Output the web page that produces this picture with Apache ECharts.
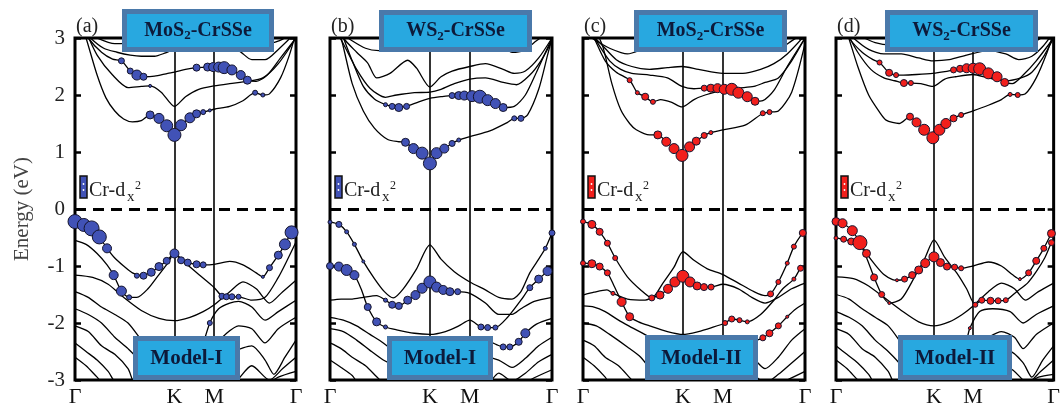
<!DOCTYPE html>
<html><head><meta charset="utf-8">
<script src="https://cdn.jsdelivr.net/npm/echarts@6/dist/echarts.min.js"></script>
<style>html,body{margin:0;padding:0;background:#fff}#c{width:1063px;height:410px}</style>
</head><body><div id="c"></div><script>
// ---------- data ----------
const kPoints = [0, 0.45, 0.63, 1];
const kLabels = ['Γ', 'K', 'M', 'Γ'];
const panelLetters = ['(a)', '(b)', '(c)', '(d)'];
const systemHost = ['MoS', 'WS', 'MoS', 'WS'];
const models = ['Model-I', 'Model-I', 'Model-II', 'Model-II'];
const dotColors = ['#4152b6', '#4152b6', '#f21f1c', '#f21f1c'];

const bandsA = [
 [[0,3.6],[0.05,3.0],[0.1,2.35],[0.14,1.95],[0.18,1.72],[0.22,1.58],[0.26,1.53],[0.3,1.55],[0.34,1.65],[0.38,1.59],[0.415,1.46],[0.45,1.3],[0.48,1.47],[0.52,1.6],[0.55,1.67],[0.58,1.7],[0.63,1.75],[0.7,1.8],[0.76,1.9],[0.815,2.04],[0.85,2.0],[0.88,2.02],[0.93,2.3],[0.97,2.7],[1,3.1]],
 [[0,3.5],[0.05,3.1],[0.1,2.7],[0.17,2.35],[0.24,2.13],[0.3,2.15],[0.34,2.16],[0.39,2.05],[0.45,1.8],[0.5,1.97],[0.56,2.1],[0.63,2.16],[0.7,2.2],[0.78,2.24],[0.85,2.3],[0.92,2.55],[1,3.0]],
 [[0,3.4],[0.06,3.0],[0.12,2.75],[0.17,2.63],[0.21,2.6],[0.25,2.42],[0.28,2.35],[0.31,2.32],[0.36,2.33],[0.42,2.38],[0.45,2.4],[0.5,2.45],[0.55,2.48],[0.6,2.49],[0.65,2.49],[0.675,2.48],[0.71,2.44],[0.75,2.35],[0.78,2.26],[0.82,2.24],[0.87,2.35],[0.93,2.65],[1,3.0]],
 [[0,3.3],[0.07,3.0],[0.13,2.82],[0.19,2.75],[0.25,2.7],[0.3,2.68],[0.36,2.68],[0.41,2.74],[0.45,2.8],[0.52,2.85],[0.6,2.9],[0.68,2.82],[0.74,2.78],[0.8,2.62],[0.86,2.62],[0.92,2.8],[1,3.1]],
 [[0,3.2],[0.1,3.0],[0.18,2.9],[0.26,2.92],[0.34,3.05],[0.45,3.2],[0.6,3.2],[0.72,3.05],[0.8,2.92],[0.87,2.9],[0.94,2.98],[1,3.2]],
 [[0,-0.22],[0.04,-0.28],[0.075,-0.34],[0.11,-0.49],[0.145,-0.69],[0.18,-0.86],[0.22,-1.0],[0.26,-1.12],[0.3,-1.17],[0.345,-1.11],[0.38,-1.01],[0.415,-0.91],[0.45,-0.78],[0.48,-0.9],[0.51,-0.94],[0.55,-0.97],[0.58,-0.98],[0.63,-0.97],[0.7,-0.92],[0.76,-0.98],[0.82,-1.12],[0.85,-1.19],[0.88,-1.03],[0.92,-0.81],[0.95,-0.62],[0.98,-0.41],[1,-0.36]],
 [[0,-0.55],[0.05,-0.62],[0.1,-0.78],[0.145,-0.98],[0.175,-1.16],[0.21,-1.44],[0.245,-1.55],[0.28,-1.55],[0.33,-1.4],[0.38,-1.15],[0.42,-0.95],[0.45,-0.78],[0.5,-0.95],[0.56,-1.15],[0.63,-1.38],[0.665,-1.53],[0.685,-1.54],[0.71,-1.54],[0.74,-1.54],[0.8,-1.6],[0.86,-1.55],[0.92,-1.2],[0.96,-0.9],[1,-0.58]],
 [[0,-1.16],[0.08,-1.2],[0.15,-1.32],[0.22,-1.55],[0.3,-1.78],[0.38,-1.92],[0.45,-1.96],[0.52,-1.9],[0.58,-1.8],[0.63,-1.68],[0.7,-1.45],[0.76,-1.28],[0.82,-1.4],[0.88,-1.65],[0.94,-1.45],[1,-1.25]],
 [[0,-1.45],[0.06,-1.55],[0.12,-1.72],[0.18,-1.85],[0.24,-2.0],[0.3,-2.3],[0.36,-2.6],[0.42,-2.95],[0.45,-3.1],[0.5,-3.0],[0.56,-2.6],[0.61,-2.0],[0.65,-1.75],[0.7,-1.65],[0.74,-1.62],[0.8,-1.72],[0.86,-1.95],[0.92,-1.8],[1,-1.6]],
 [[0,-1.75],[0.06,-1.85],[0.12,-2.0],[0.18,-2.25],[0.24,-2.45],[0.3,-2.7],[0.35,-3.1],[0.55,-3.1],[0.6,-2.6],[0.63,-2.4],[0.68,-2.2],[0.74,-2.05],[0.8,-2.1],[0.86,-2.35],[0.92,-2.1],[1,-1.9]],
 [[0,-2.05],[0.06,-2.15],[0.12,-2.4],[0.18,-2.55],[0.24,-2.8],[0.28,-3.1],[0.62,-3.1],[0.66,-2.7],[0.72,-2.5],[0.8,-2.4],[0.86,-2.65],[0.9,-2.9],[0.95,-2.6],[1,-2.3]],
 [[0,-2.35],[0.05,-2.5],[0.1,-2.65],[0.15,-2.85],[0.2,-3.1],[0.7,-3.1],[0.8,-2.75],[0.88,-3.0],[0.94,-2.8],[1,-2.6]],
 [[0,-2.6],[0.05,-2.75],[0.1,-2.95],[0.14,-3.1],[0.85,-3.1],[0.92,-2.95],[1,-2.85]]
];
const dotsA = [
 [0.21,2.6,6],[0.25,2.42,6],[0.28,2.35,10],[0.31,2.32,7],[0.34,2.16,3],
 [0.34,1.65,8],[0.38,1.59,10],[0.415,1.46,12],[0.45,1.3,13],[0.48,1.47,11],[0.52,1.6,10],[0.55,1.67,8],[0.58,1.7,5],[0.61,1.73,3],
 [0.55,2.48,7],[0.6,2.49,8],[0.625,2.49,9],[0.65,2.49,10],[0.675,2.48,12],[0.71,2.44,10],[0.75,2.35,9],[0.78,2.26,8],
 [0.815,2.04,5],[0.85,2.0,4],
 [0,-0.22,14],[0.04,-0.28,13],[0.075,-0.34,15],[0.11,-0.49,14],[0.145,-0.69,9],[0.175,-1.16,9],[0.21,-1.44,10],[0.245,-1.55,5],
 [0.28,-1.17,5],[0.31,-1.17,7],[0.345,-1.11,8],[0.38,-1.01,8],[0.415,-0.91,7],[0.45,-0.78,9],[0.48,-0.9,7],[0.51,-0.94,7],[0.55,-0.97,7],[0.58,-0.98,6],
 [0.665,-1.53,6],[0.685,-1.54,6],[0.71,-1.54,6],[0.74,-1.54,5],[0.61,-2.0,5],
 [0.85,-1.19,3],[0.88,-1.03,6],[0.92,-0.81,8],[0.95,-0.62,11],[0.98,-0.41,13]
];

const bandsB = [
 [[0,3.6],[0.05,3.0],[0.1,2.2],[0.15,1.72],[0.2,1.42],[0.26,1.22],[0.31,1.18],[0.34,1.17],[0.376,1.06],[0.415,0.98],[0.45,0.8],[0.48,0.98],[0.515,1.06],[0.55,1.15],[0.58,1.21],[0.63,1.27],[0.72,1.37],[0.8,1.52],[0.83,1.59],[0.86,1.59],[0.89,1.65],[0.94,2.1],[0.98,2.7],[1,3.0]],
 [[0,3.5],[0.05,3.1],[0.1,2.6],[0.15,2.15],[0.2,1.93],[0.25,1.83],[0.28,1.8],[0.31,1.78],[0.345,1.8],[0.4,1.88],[0.45,1.94],[0.5,1.97],[0.55,1.99],[0.58,1.99],[0.605,1.99],[0.64,1.98],[0.675,1.97],[0.71,1.91],[0.745,1.85],[0.78,1.78],[0.83,1.8],[0.88,2.0],[0.93,2.4],[1,3.0]],
 [[0,3.4],[0.06,3.0],[0.12,2.75],[0.17,2.56],[0.21,2.3],[0.27,2.38],[0.35,2.61],[0.39,2.47],[0.45,2.14],[0.5,2.32],[0.55,2.42],[0.63,2.5],[0.7,2.55],[0.78,2.45],[0.83,2.38],[0.88,2.42],[0.94,2.65],[1,3.0]],
 [[0,3.3],[0.06,2.9],[0.12,2.45],[0.18,2.12],[0.25,1.96],[0.3,2.0],[0.38,2.04],[0.45,2.05],[0.5,2.1],[0.56,2.2],[0.63,2.28],[0.7,2.3],[0.78,2.22],[0.84,2.18],[0.9,2.35],[0.95,2.6],[1,2.95]],
 [[0,3.2],[0.08,3.0],[0.16,2.82],[0.22,2.78],[0.3,2.9],[0.38,3.0],[0.45,2.95],[0.55,3.05],[0.65,3.1],[0.75,2.95],[0.82,2.75],[0.87,2.78],[0.93,2.95],[1,3.15]],
 [[0,-0.23],[0.04,-0.27],[0.075,-0.4],[0.11,-0.62],[0.15,-0.92],[0.2,-1.22],[0.245,-1.45],[0.285,-1.56],[0.33,-1.4],[0.39,-1.05],[0.45,-0.63],[0.5,-0.88],[0.56,-1.1],[0.63,-1.28],[0.7,-1.42],[0.76,-1.55],[0.82,-1.58],[0.86,-1.45],[0.9,-1.12],[0.94,-0.88],[0.97,-0.69],[1,-0.42]],
 [[0,-1.0],[0.04,-1.01],[0.075,-1.07],[0.11,-1.16],[0.14,-1.4],[0.17,-1.72],[0.21,-1.98],[0.25,-2.07],[0.3,-2.12],[0.38,-2.18],[0.45,-2.2],[0.52,-2.15],[0.58,-2.05],[0.63,-1.95],[0.68,-2.07],[0.71,-2.08],[0.745,-2.08],[0.8,-1.9],[0.86,-1.6],[0.9,-1.38],[0.94,-1.23],[0.98,-1.09],[1,-1.02]],
 [[0,-1.6],[0.05,-1.58],[0.1,-1.58],[0.15,-1.55],[0.21,-1.52],[0.25,-1.6],[0.28,-1.68],[0.31,-1.7],[0.35,-1.6],[0.385,-1.51],[0.415,-1.39],[0.45,-1.28],[0.48,-1.37],[0.51,-1.42],[0.54,-1.45],[0.575,-1.45],[0.63,-1.48],[0.7,-1.65],[0.76,-1.85],[0.82,-1.85],[0.86,-1.75],[0.92,-1.62],[1,-1.55]],
 [[0,-1.9],[0.06,-1.95],[0.12,-2.05],[0.18,-2.2],[0.24,-2.35],[0.3,-2.55],[0.36,-2.9],[0.4,-3.1],[0.58,-3.1],[0.63,-2.6],[0.66,-2.35],[0.7,-2.3],[0.75,-2.38],[0.78,-2.42],[0.81,-2.42],[0.85,-2.33],[0.88,-2.18],[0.93,-2.02],[1,-1.92]],
 [[0,-2.1],[0.06,-2.15],[0.12,-2.3],[0.18,-2.48],[0.24,-2.65],[0.3,-2.78],[0.36,-3.1],[0.6,-3.1],[0.64,-2.8],[0.7,-2.6],[0.76,-2.65],[0.82,-2.78],[0.88,-2.62],[0.94,-2.4],[1,-2.25]],
 [[0,-2.35],[0.05,-2.45],[0.1,-2.6],[0.16,-2.75],[0.22,-2.98],[0.26,-3.1],[0.7,-3.1],[0.76,-2.88],[0.82,-3.02],[0.88,-2.88],[0.94,-2.68],[1,-2.55]],
 [[0,-2.65],[0.05,-2.78],[0.1,-2.92],[0.14,-3.1],[0.85,-3.1],[0.92,-2.96],[1,-2.82]]
];
const dotsB = [
 [0.25,1.83,4],[0.28,1.8,6],[0.31,1.78,8],[0.345,1.8,6],
 [0.34,1.17,8],[0.376,1.06,10],[0.415,0.98,12],[0.45,0.8,13],[0.48,0.98,11],[0.515,1.06,9],[0.55,1.15,6],[0.58,1.21,4],
 [0.55,1.99,6],[0.58,1.99,8],[0.605,1.99,9],[0.64,1.98,11],[0.675,1.97,13],[0.71,1.91,11],[0.745,1.85,10],[0.78,1.78,8],
 [0.83,1.59,5],[0.86,1.59,6],
 [0,-0.23,4],[0.04,-0.27,6],[0.075,-0.4,4],[0.11,-0.62,4],[0.15,-0.92,3],
 [0,-1.0,7],[0.04,-1.01,9],[0.075,-1.07,11],[0.11,-1.16,9],[0.17,-1.72,7],[0.21,-1.98,8],[0.25,-2.07,4],
 [0.25,-1.6,4],[0.28,-1.68,7],[0.31,-1.7,7],[0.35,-1.6,8],[0.385,-1.51,9],[0.415,-1.39,10],[0.45,-1.28,12],[0.48,-1.37,10],[0.51,-1.42,9],[0.54,-1.45,8],[0.575,-1.45,6],
 [0.68,-2.07,6],[0.71,-2.08,6],[0.745,-2.08,5],
 [0.78,-2.42,6],[0.81,-2.42,6],[0.85,-2.33,7],[0.88,-2.18,9],
 [0.9,-1.38,6],[0.94,-1.23,8],[0.98,-1.09,9],[0.97,-0.69,4],[1,-0.42,6]
];

const bandsC = [
 [[0,3.6],[0.05,3.2],[0.09,2.84],[0.13,2.2],[0.17,1.74],[0.21,1.5],[0.24,1.39],[0.3,1.3],[0.337,1.3],[0.375,1.18],[0.41,1.06],[0.446,0.94],[0.48,1.09],[0.51,1.19],[0.546,1.29],[0.576,1.34],[0.63,1.39],[0.73,1.47],[0.81,1.68],[0.84,1.7],[0.88,1.72],[0.94,2.05],[1,2.9]],
 [[0,3.4],[0.05,3.0],[0.1,2.6],[0.15,2.4],[0.21,2.26],[0.245,2.04],[0.28,1.97],[0.315,1.88],[0.35,1.92],[0.4,1.87],[0.446,1.79],[0.5,1.92],[0.55,2.0],[0.63,2.08],[0.7,2.12],[0.77,2.15],[0.82,2.22],[0.88,2.3],[0.94,2.6],[1,3.0]],
 [[0,3.3],[0.06,2.95],[0.12,2.6],[0.17,2.45],[0.22,2.38],[0.3,2.35],[0.38,2.3],[0.446,2.15],[0.5,2.11],[0.546,2.12],[0.576,2.12],[0.606,2.12],[0.636,2.1],[0.67,2.1],[0.7,2.04],[0.74,1.97],[0.775,1.89],[0.81,1.9],[0.86,2.08],[0.92,2.5],[1,3.0]],
 [[0,3.2],[0.08,2.9],[0.15,2.62],[0.22,2.5],[0.3,2.45],[0.38,2.48],[0.446,2.5],[0.52,2.45],[0.63,2.38],[0.72,2.38],[0.8,2.45],[0.86,2.55],[0.92,2.72],[1,3.05]],
 [[0,3.1],[0.06,2.95],[0.12,2.82],[0.2,2.72],[0.28,2.82],[0.35,2.9],[0.446,2.88],[0.55,2.95],[0.63,3.0],[0.75,2.95],[0.82,2.78],[0.88,2.8],[0.94,2.95],[1,3.1]],
 [[0,-0.22],[0.04,-0.27],[0.075,-0.4],[0.11,-0.6],[0.145,-0.86],[0.2,-1.19],[0.26,-1.42],[0.31,-1.56],[0.36,-1.3],[0.41,-1.02],[0.45,-0.75],[0.5,-0.9],[0.56,-1.05],[0.63,-1.15],[0.7,-1.3],[0.77,-1.45],[0.82,-1.52],[0.845,-1.49],[0.88,-1.28],[0.92,-0.95],[0.95,-0.66],[0.99,-0.42],[1,-0.4]],
 [[0,-0.95],[0.04,-0.96],[0.075,-1.01],[0.11,-1.12],[0.14,-1.35],[0.174,-1.63],[0.21,-1.89],[0.25,-1.98],[0.3,-2.05],[0.38,-2.15],[0.45,-2.2],[0.52,-2.15],[0.58,-2.08],[0.64,-2.0],[0.67,-1.93],[0.705,-1.95],[0.74,-1.98],[0.8,-1.85],[0.86,-1.6],[0.9,-1.4],[0.95,-1.23],[0.98,-1.04],[1,-1.0]],
 [[0,-1.51],[0.05,-1.46],[0.108,-1.42],[0.135,-1.48],[0.2,-1.58],[0.28,-1.6],[0.31,-1.56],[0.347,-1.51],[0.383,-1.4],[0.414,-1.28],[0.45,-1.18],[0.482,-1.28],[0.514,-1.35],[0.545,-1.37],[0.577,-1.37],[0.63,-1.32],[0.7,-1.4],[0.76,-1.55],[0.82,-1.65],[0.88,-1.55],[0.94,-1.4],[1,-1.3]],
 [[0,-1.7],[0.05,-1.72],[0.1,-1.8],[0.16,-1.95],[0.22,-2.08],[0.3,-2.25],[0.36,-2.45],[0.42,-2.7],[0.45,-2.8],[0.52,-2.7],[0.58,-2.45],[0.63,-2.3],[0.7,-2.3],[0.76,-2.32],[0.81,-2.26],[0.84,-2.18],[0.88,-2.05],[0.92,-1.89],[0.96,-1.75],[1,-1.65]],
 [[0,-2.0],[0.06,-2.05],[0.12,-2.2],[0.2,-2.42],[0.26,-2.6],[0.32,-2.9],[0.36,-3.1],[0.6,-3.1],[0.64,-2.7],[0.7,-2.55],[0.76,-2.6],[0.82,-2.8],[0.88,-2.6],[0.94,-2.3],[1,-2.1]],
 [[0,-2.3],[0.05,-2.4],[0.1,-2.6],[0.16,-2.75],[0.22,-3.0],[0.25,-3.1],[0.7,-3.1],[0.76,-2.9],[0.82,-3.05],[0.88,-2.9],[0.94,-2.7],[1,-2.5]],
 [[0,-2.6],[0.05,-2.75],[0.1,-2.95],[0.13,-3.1],[0.86,-3.1],[0.92,-3.0],[1,-2.85]]
];
const dotsC = [
 [0.21,2.26,5],[0.245,2.04,4],[0.28,1.97,7],[0.315,1.88,5],
 [0.337,1.3,8],[0.375,1.18,9],[0.41,1.06,10],[0.446,0.94,12],[0.48,1.09,10],[0.51,1.19,8],[0.546,1.29,6],[0.576,1.34,4],
 [0.546,2.12,6],[0.576,2.12,8],[0.606,2.12,9],[0.636,2.1,10],[0.67,2.1,12],[0.7,2.04,11],[0.74,1.97,10],[0.775,1.89,8],
 [0.81,1.68,5],[0.84,1.7,5],
 [0,-0.22,5],[0.04,-0.27,8],[0.075,-0.4,7],[0.11,-0.6,6],[0.145,-0.86,5],
 [0,-0.95,5],[0.04,-0.96,8],[0.075,-1.01,7],[0.11,-1.12,6],[0.174,-1.63,9],[0.21,-1.89,8],
 [0.135,-1.48,4],[0.31,-1.56,6],[0.347,-1.51,8],[0.383,-1.4,9],[0.414,-1.28,10],[0.45,-1.18,12],[0.482,-1.28,10],[0.514,-1.35,8],[0.545,-1.37,7],[0.577,-1.37,6],
 [0.64,-2.0,5],[0.67,-1.93,6],[0.705,-1.95,5],[0.74,-1.98,4],
 [0.81,-2.26,6],[0.84,-2.18,7],[0.88,-2.05,6],[0.92,-1.89,3],
 [0.845,-1.49,6],[0.88,-1.28,5],[0.92,-0.95,4],[0.95,-0.66,5],[0.99,-0.42,7],
 [0.95,-1.23,4],[0.98,-1.04,6]
];

const bandsD = [
 [[0,3.6],[0.05,3.1],[0.1,2.5],[0.15,2.0],[0.2,1.7],[0.23,1.56],[0.29,1.5],[0.34,1.62],[0.37,1.52],[0.405,1.39],[0.445,1.25],[0.475,1.39],[0.505,1.5],[0.54,1.59],[0.575,1.65],[0.63,1.72],[0.7,1.82],[0.76,1.92],[0.8,2.01],[0.835,2.0],[0.87,2.02],[0.92,2.3],[0.97,2.75],[1,3.1]],
 [[0,3.5],[0.05,3.1],[0.1,2.75],[0.16,2.45],[0.22,2.3],[0.27,2.25],[0.312,2.21],[0.344,2.21],[0.39,2.2],[0.445,2.15],[0.5,2.28],[0.55,2.32],[0.63,2.36],[0.7,2.3],[0.78,2.25],[0.85,2.3],[0.9,2.4],[0.95,2.65],[1,3.0]],
 [[0,3.4],[0.06,3.0],[0.12,2.75],[0.17,2.62],[0.2,2.57],[0.244,2.39],[0.276,2.35],[0.31,2.35],[0.37,2.36],[0.445,2.38],[0.5,2.41],[0.54,2.44],[0.57,2.46],[0.6,2.47],[0.63,2.47],[0.66,2.46],[0.7,2.38],[0.74,2.32],[0.775,2.22],[0.81,2.2],[0.86,2.35],[0.92,2.6],[1,3.0]],
 [[0,3.3],[0.08,3.0],[0.15,2.8],[0.22,2.72],[0.3,2.72],[0.38,2.65],[0.445,2.6],[0.52,2.62],[0.6,2.7],[0.7,2.78],[0.78,2.72],[0.84,2.62],[0.9,2.68],[0.95,2.85],[1,3.1]],
 [[0,3.2],[0.1,3.05],[0.18,2.92],[0.25,2.88],[0.32,2.95],[0.4,2.92],[0.45,2.95],[0.55,3.1],[0.7,3.1],[0.78,2.95],[0.85,2.88],[0.92,2.95],[1,3.15]],
 [[0,-0.22],[0.03,-0.25],[0.075,-0.38],[0.11,-0.59],[0.14,-0.78],[0.18,-0.98],[0.22,-1.15],[0.26,-1.24],[0.28,-1.25],[0.315,-1.23],[0.35,-1.16],[0.38,-1.07],[0.41,-0.95],[0.45,-0.84],[0.48,-0.94],[0.51,-1.01],[0.545,-1.02],[0.575,-1.04],[0.63,-1.0],[0.7,-0.93],[0.76,-1.0],[0.81,-1.15],[0.845,-1.23],[0.885,-1.12],[0.92,-0.91],[0.955,-0.69],[0.99,-0.43],[1,-0.4]],
 [[0,-0.51],[0.035,-0.53],[0.07,-0.57],[0.11,-0.62],[0.14,-0.85],[0.175,-1.2],[0.21,-1.5],[0.245,-1.65],[0.3,-1.58],[0.36,-1.2],[0.41,-0.85],[0.45,-0.54],[0.5,-0.85],[0.56,-1.15],[0.6,-1.4],[0.64,-1.68],[0.67,-1.6],[0.71,-1.61],[0.745,-1.61],[0.78,-1.6],[0.83,-1.45],[0.88,-1.3],[0.92,-1.1],[0.96,-0.85],[0.99,-0.59],[1,-0.55]],
 [[0,-1.19],[0.08,-1.22],[0.15,-1.35],[0.22,-1.55],[0.3,-1.78],[0.38,-1.98],[0.45,-2.05],[0.52,-1.98],[0.58,-1.85],[0.63,-1.7],[0.7,-1.45],[0.76,-1.3],[0.82,-1.4],[0.87,-1.6],[0.93,-1.45],[1,-1.3]],
 [[0,-1.5],[0.06,-1.58],[0.12,-1.75],[0.18,-1.9],[0.24,-2.05],[0.3,-2.35],[0.36,-2.65],[0.42,-3.0],[0.45,-3.1],[0.5,-3.05],[0.56,-2.6],[0.6,-2.3],[0.615,-2.09],[0.66,-1.8],[0.72,-1.75],[0.8,-1.8],[0.86,-2.0],[0.92,-1.85],[1,-1.7]],
 [[0,-1.8],[0.06,-1.9],[0.12,-2.05],[0.18,-2.3],[0.24,-2.5],[0.3,-2.75],[0.35,-3.1],[0.56,-3.1],[0.6,-2.65],[0.64,-2.4],[0.7,-2.25],[0.76,-2.15],[0.82,-2.25],[0.86,-2.45],[0.92,-2.2],[1,-2.0]],
 [[0,-2.1],[0.06,-2.2],[0.12,-2.45],[0.18,-2.6],[0.24,-2.85],[0.28,-3.1],[0.62,-3.1],[0.68,-2.75],[0.74,-2.55],[0.8,-2.5],[0.86,-2.7],[0.9,-2.95],[0.95,-2.65],[1,-2.4]],
 [[0,-2.4],[0.05,-2.55],[0.1,-2.7],[0.15,-2.9],[0.19,-3.1],[0.72,-3.1],[0.8,-2.8],[0.88,-3.05],[0.94,-2.85],[1,-2.65]],
 [[0,-2.65],[0.05,-2.8],[0.1,-3.0],[0.13,-3.1],[0.86,-3.1],[0.93,-2.95],[1,-2.9]]
];
const dotsD = [
 [0.2,2.57,5],[0.244,2.39,7],[0.276,2.35,5],[0.312,2.21,7],[0.344,2.21,5],
 [0.34,1.62,7],[0.37,1.52,9],[0.405,1.39,11],[0.445,1.25,12],[0.475,1.39,11],[0.505,1.5,10],[0.54,1.59,7],[0.575,1.65,5],
 [0.54,2.44,6],[0.57,2.46,7],[0.6,2.47,9],[0.63,2.47,10],[0.66,2.46,12],[0.7,2.38,11],[0.74,2.32,10],[0.775,2.22,8],
 [0.8,2.01,4],[0.835,2.0,5],
 [0,-0.22,8],[0.03,-0.25,9],[0.075,-0.38,10],[0,-0.51,4],[0.035,-0.53,6],[0.07,-0.57,7],[0.11,-0.59,14],[0.14,-0.78,8],[0.175,-1.2,7],[0.21,-1.5,6],[0.245,-1.65,3],
 [0.28,-1.25,3],[0.315,-1.23,6],[0.35,-1.16,7],[0.38,-1.07,8],[0.41,-0.95,9],[0.45,-0.84,10],[0.48,-0.94,8],[0.51,-1.01,7],[0.545,-1.02,6],[0.575,-1.04,5],
 [0.64,-1.68,5],[0.67,-1.6,6],[0.71,-1.61,7],[0.745,-1.61,6],[0.78,-1.6,5],[0.615,-2.09,3],
 [0.845,-1.23,3],[0.885,-1.12,6],[0.92,-0.91,7],[0.955,-0.69,6],[0.99,-0.43,8],[0.99,-0.59,6]
];

const allBands = [bandsA, bandsB, bandsC, bandsD];
const allDots = [dotsA, dotsB, dotsC, dotsD];

// ---------- layout ----------
const gridBoxes = [
  {left: 75, width: 221}, {left: 330, width: 222}, {left: 583, width: 222}, {left: 836, width: 221}
];
const GTOP = 38, GH = 342;
const titleBoxes = [[122,9,152,43],[379,10,153,42],[634,10,153,42],[885,10,153,42]];
const modelBoxes = [[133,336,107,44],[387,336,106,44],[645,335,113,45],[898,335,114,45]];
const SERIF = '"Liberation Serif", "DejaVu Serif", serif';

const chart = echarts.init(document.getElementById('c'), null, {renderer: 'canvas'});
const grid = [], xAxis = [], yAxis = [], series = [], graphic = [];

gridBoxes.forEach((g, p) => {
  grid.push({left: g.left, top: GTOP, width: g.width, height: GH, show: true,
    borderColor: '#000', borderWidth: 3, backgroundColor: 'transparent', containLabel: false});
  xAxis.push({gridIndex: p, type: 'value', min: 0, max: 1,
    axisLine: {show: false}, axisTick: {show: false}, splitLine: {show: false},
    axisLabel: {show: true, customValues: kPoints, margin: 6, fontSize: 22, fontFamily: SERIF, color: '#111',
      formatter: v => kLabels[kPoints.indexOf(v)] || ''}});
  ['left', 'right'].forEach(pos => {
    yAxis.push({gridIndex: p, type: 'value', position: pos, min: -3, max: 3, interval: 1,
      axisLine: {show: false}, splitLine: {show: false},
      axisTick: {show: true, inside: true, length: 6, lineStyle: {color: '#000', width: 2.5}},
      axisLabel: {show: p === 0 && pos === 'left', margin: 10, fontSize: 21, fontFamily: SERIF, color: '#222'}});
  });
  const yIdx = p * 2;
  allBands[p].forEach((b, i) => {
    const s = {type: 'line', xAxisIndex: p, yAxisIndex: yIdx, data: b, showSymbol: false, symbol: 'none',
      smooth: 0.25, lineStyle: {color: '#000', width: 1.3}, silent: true, z: 2, clip: true};
    if (i === 0) {
      s.markLine = {silent: true, symbol: ['none', 'none'], label: {show: false}, animation: false,
        data: [
          {xAxis: kPoints[1], lineStyle: {color: '#000', width: 1.6, type: 'solid'}},
          {xAxis: kPoints[2], lineStyle: {color: '#000', width: 1.6, type: 'solid'}},
          {yAxis: 0, lineStyle: {color: '#000', width: 2.8, type: [11, 7]}}
        ]};
    }
    series.push(s);
  });
  series.push({type: 'scatter', xAxisIndex: p, yAxisIndex: yIdx, data: allDots[p],
    symbolSize: d => d[2], z: 5, silent: true,
    itemStyle: {color: dotColors[p], borderColor: '#15152e', borderWidth: 1, opacity: 1}});

  // panel letter
  graphic.push({type: 'text', x: g.left + 1, y: 27, z: 50,
    style: {text: panelLetters[p], font: '20px ' + SERIF, fill: '#222', verticalAlign: 'middle', align: 'left'}});
  // title box
  const tb = titleBoxes[p];
  graphic.push({type: 'group', z: 60, children: [
    {type: 'rect', shape: {x: tb[0], y: tb[1], width: tb[2], height: tb[3]}, style: {fill: '#4a79aa'}, z: 60},
    {type: 'rect', shape: {x: tb[0] + 5, y: tb[1] + 5, width: tb[2] - 10, height: tb[3] - 10}, style: {fill: '#28a8e0'}, z: 61},
    {type: 'text', x: tb[0] + tb[2] / 2, y: tb[1] + tb[3] / 2, z: 62,
      style: {text: '{t|' + systemHost[p] + '}{s|2}{t|-CrSSe}', align: 'center', verticalAlign: 'middle',
        rich: {t: {fontSize: 20, fontWeight: 'bold', fontFamily: SERIF, fill: '#0d1a3a', lineHeight: 24, verticalAlign: 'middle'},
               s: {fontSize: 13, fontWeight: 'bold', fontFamily: SERIF, fill: '#0d1a3a', lineHeight: 12, verticalAlign: 'bottom'}}}}
  ]});
  // model box
  const mb = modelBoxes[p];
  graphic.push({type: 'group', z: 60, children: [
    {type: 'rect', shape: {x: mb[0], y: mb[1], width: mb[2], height: mb[3]}, style: {fill: '#4a79aa'}, z: 60},
    {type: 'rect', shape: {x: mb[0] + 5, y: mb[1] + 5, width: mb[2] - 10, height: mb[3] - 10}, style: {fill: '#28a8e0'}, z: 61},
    {type: 'text', x: mb[0] + mb[2] / 2, y: mb[1] + mb[3] / 2 + 1, z: 62,
      style: {text: models[p], align: 'center', verticalAlign: 'middle', font: 'bold 21px ' + SERIF, fill: '#0d1a3a'}}
  ]});
  // orbital legend
  const lx = g.left + 5;
  graphic.push({type: 'group', z: 55, children: [
    {type: 'rect', shape: {x: lx, y: 176, width: 7, height: 22}, style: {fill: dotColors[p], stroke: '#111', lineWidth: 1.5}},
    {type: 'circle', shape: {cx: lx + 3.5, cy: 184, r: 0.9}, style: {fill: '#fff'}},
    {type: 'circle', shape: {cx: lx + 3.5, cy: 190, r: 0.9}, style: {fill: '#fff'}},
    {type: 'text', x: lx + 9, y: 191, style: {text: 'Cr-d', font: '20px ' + SERIF, fill: '#222', verticalAlign: 'middle'}},
    {type: 'text', x: lx + 47, y: 197, style: {text: 'x', font: '15px ' + SERIF, fill: '#222', verticalAlign: 'middle'}},
    {type: 'text', x: lx + 55, y: 186, style: {text: '2', font: '12px ' + SERIF, fill: '#222', verticalAlign: 'middle'}}
  ]});
});

graphic.push({type: 'text', x: 22, y: 209, rotation: Math.PI / 2, z: 50,
  style: {text: 'Energy (eV)', font: '21px ' + SERIF, fill: '#444', align: 'center', verticalAlign: 'middle'}});

chart.setOption({animation: false, backgroundColor: '#fff', grid, xAxis, yAxis, series, graphic});
</script></body></html>
